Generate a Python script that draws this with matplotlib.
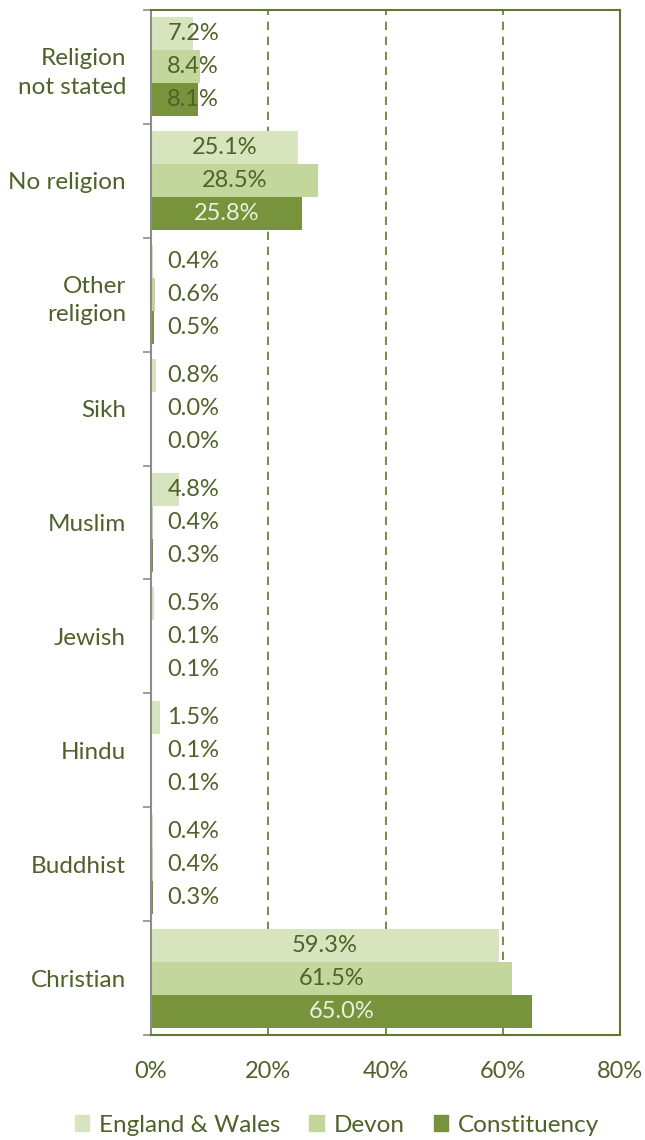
import numpy as np
import matplotlib.pyplot as plt
from matplotlib.patches import Patch

# Daten (von oben nach unten im Diagramm)
categories = ['Religion\nnot stated', 'No religion', 'Other\nreligion', 'Sikh',
              'Muslim', 'Jewish', 'Hindu', 'Buddhist', 'Christian']
england_wales = [7.2, 25.1, 0.4, 0.8, 4.8, 0.5, 1.5, 0.4, 59.3]
devon = [8.4, 28.5, 0.6, 0.0, 0.4, 0.1, 0.1, 0.4, 61.5]
constituency = [8.1, 25.8, 0.5, 0.0, 0.3, 0.1, 0.1, 0.3, 65.0]
series_names = ['England & Wales', 'Devon', 'Constituency']

colors = ['#D7E4BD', '#C3D69B', '#77933C']
text_dark = '#4F6228'
text_light = '#EBF1DE'
frame_green = '#5E7A2A'

plt.rcParams['font.family'] = ['Lato', 'DejaVu Sans']

fig = plt.figure(figsize=(6.45, 11.4), dpi=100)
ax = fig.add_axes([151 / 645, 105 / 1140, 469 / 645, 1025 / 1140])

n = len(categories)
ypos = np.arange(n)
bar_h = 0.29
all_series = [england_wales, devon, constituency]

for i, (vals, col) in enumerate(zip(all_series, colors)):
    offs = (i - 1) * bar_h
    ax.barh(ypos + offs, vals, height=bar_h, color=col, zorder=2)
    for y, v in zip(ypos, vals):
        # kleine Balken: Beschriftung nicht weiter links als bei ca. 7%
        xlab = max(v / 2, 7.2)
        on_bar = i == 2 and v > 15
        ax.text(xlab, y + offs, f'{v:.1f}%', ha='center', va='center',
                fontsize=17, color=text_light if on_bar else text_dark, zorder=3)

ax.set_xlim(0, 80)
ax.set_ylim(n - 0.5, -0.5)
ax.set_xticks([0, 20, 40, 60, 80])
ax.set_xticklabels([f'{t}%' for t in [0, 20, 40, 60, 80]])
for t in [20, 40, 60]:
    ax.axvline(t, color=frame_green, linestyle=(0, (5, 4)), linewidth=1.2, zorder=1)

ax.set_yticks(ypos)
ax.set_yticklabels(categories, fontsize=17.5, color=text_dark, linespacing=1.45)
ax.set_yticks(np.arange(n + 1) - 0.5, minor=True)
ax.tick_params(axis='y', which='major', length=0, pad=18)
ax.tick_params(axis='y', which='minor', length=6, color='#8C8C8C', width=1.2)
ax.tick_params(axis='x', length=0, pad=19, labelsize=17, labelcolor=text_dark)

for side in ['top', 'right', 'bottom']:
    ax.spines[side].set_color(frame_green)
    ax.spines[side].set_linewidth(1.5)
ax.spines['left'].set_color('#8C8C8C')
ax.spines['left'].set_linewidth(1.5)

handles = [Patch(color=c, label=s) for c, s in zip(colors, series_names)]
leg = fig.legend(handles=handles, loc='center', bbox_to_anchor=(337 / 645, 1 - 1125 / 1140),
                 ncol=3, frameon=False, fontsize=17.5, handlelength=0.6, handleheight=0.6,
                 handletextpad=0.4, columnspacing=1.2)
for t in leg.get_texts():
    t.set_color(text_dark)

fig.savefig('out.png', dpi=100)
